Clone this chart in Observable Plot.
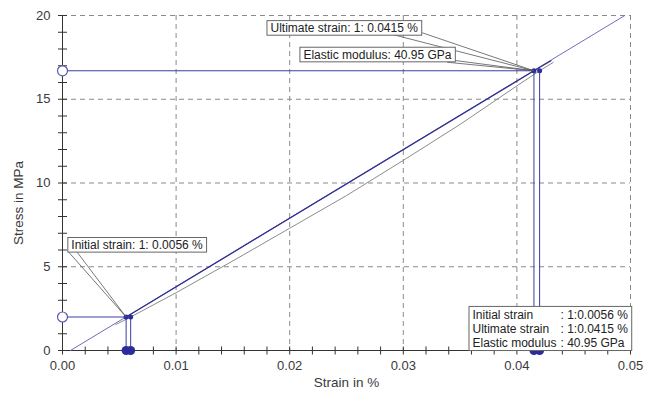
<!DOCTYPE html>
<html><head><meta charset="utf-8">
<script src="https://cdn.jsdelivr.net/npm/d3@7"></script>
<script src="https://cdn.jsdelivr.net/npm/@observablehq/plot@0.6"></script>
<style>
html,body{margin:0;padding:0;background:#fff;}
#chart{width:656px;height:396px;}
</style>
</head><body><div id="chart"></div>
<script>
// ---- data ----
const xTicks = [0, 0.01, 0.02, 0.03, 0.04, 0.05];
const xMinorTicks = [0.002, 0.004, 0.006, 0.008, 0.012, 0.014, 0.016, 0.018, 0.022, 0.024, 0.026, 0.028, 0.032, 0.034, 0.036, 0.038, 0.042, 0.044, 0.046, 0.048];
const yTicks = [0, 5, 10, 15, 20];
const yMinorTicks = [1, 2, 3, 4, 6, 7, 8, 9, 11, 12, 13, 14, 16, 17, 18, 19];

// elastic-modulus fit line
const fitLine = [
  {strain: 0.0007, stress: 0},
  {strain: 0.0495, stress: 20}
];
// measured curve (upper, dark)
const curveUpper = [
  {strain: 0.0056, stress: 2.0},
  {strain: 0.0415, stress: 16.7},
  {strain: 0.0430, stress: 17.3}
];
// measured curve (lower, grey)
const curveLower = [
  {strain: 0.0047, stress: 1.55},
  {strain: 0.0060, stress: 2.0},
  {strain: 0.0100, stress: 3.45},
  {strain: 0.0150, stress: 5.35},
  {strain: 0.0200, stress: 7.30},
  {strain: 0.0250, stress: 9.25},
  {strain: 0.0300, stress: 11.35},
  {strain: 0.0350, stress: 13.5},
  {strain: 0.0400, stress: 15.8},
  {strain: 0.0420, stress: 16.7},
  {strain: 0.0432, stress: 17.2}
];
// characteristic points
const keyPoints = [
  {strain: 0.0056, stress: 2.0},
  {strain: 0.0060, stress: 2.0},
  {strain: 0.0415, stress: 16.7},
  {strain: 0.0420, stress: 16.7}
];
const levels = [
  {strain: 0.0056, stress: 2.0},
  {strain: 0.0415, stress: 16.7}
];
// callout labels
const callouts = [
  {text: "Ultimate strain: 1: 0.0415 %", strain: 0.0180, stress: 19.25},
  {text: "Elastic modulus: 40.95 GPa", strain: 0.0209, stress: 17.66},
  {text: "Initial strain: 1: 0.0056 %", strain: 0.00047, stress: 6.30}
];
const leaders = [
  {x1: 0.02914, y1: 18.85, x2: 0.0415, y2: 16.7},
  {x1: 0.03166, y1: 18.97, x2: 0.0415, y2: 16.7},
  {x1: 0.03386, y1: 17.21, x2: 0.0415, y2: 16.7},
  {x1: 0.03460, y1: 17.31, x2: 0.0415, y2: 16.7},
  {x1: 0.00055, y1: 5.87, x2: 0.0056, y2: 2.0},
  {x1: 0.00129, y1: 5.87, x2: 0.0056, y2: 2.0}
];
const legendNames = ["Initial strain", "Ultimate strain", "Elastic modulus"];
const legendValues = [": 1:0.0056 %", ": 1:0.0415 %", ": 40.95 GPa"];
const xLabel = "Strain in %";
const yLabel = "Stress in MPa";

// ---- drawing ----
const FONT = "'Liberation Sans', Arial, sans-serif";
const vTick = {draw(ctx) { ctx.moveTo(0, -4); ctx.lineTo(0, 4); }};
const hTick = {draw(ctx) { ctx.moveTo(-4.5, 0); ctx.lineTo(4.5, 0); }};
const gridStyle = {stroke: "#8a8a8a", strokeOpacity: 1, strokeDasharray: "5,4", strokeWidth: 1};
const blue = "#2c2c9c";

const svg = Plot.plot({
  width: 656,
  height: 396,
  marginLeft: 62,
  marginRight: 26,
  marginTop: 15,
  marginBottom: 46,
  style: {fontFamily: FONT, fontSize: "12px", background: "#fff", color: "#333"},
  x: {domain: [0, 0.05]},
  y: {domain: [0, 20]},
  marks: [
    Plot.gridX(xTicks, gridStyle),
    Plot.gridY(yTicks, gridStyle),
    Plot.axisX(xTicks, {tickSize: 0, tickPadding: 10, tickFormat: d3.format(".2f"), label: null, fill: "#3a3a3a", fontSize: 13}),
    Plot.axisY(yTicks, {tickSize: 0, tickPadding: 12, label: null, fill: "#3a3a3a", fontSize: 13}),
    Plot.ruleX([0], {stroke: "#333"}),
    Plot.ruleY([0], {stroke: "#333"}),
    Plot.dot(xTicks.concat(xMinorTicks), {x: d => d, y: () => 0, symbol: vTick, stroke: "#333", fill: "none", strokeWidth: 1}),
    Plot.dot(yTicks.concat(yMinorTicks), {x: () => 0, y: d => d, symbol: hTick, stroke: "#333", fill: "none", strokeWidth: 1}),
    Plot.text([xLabel], {frameAnchor: "bottom", dy: 36, fontSize: 13.5, fill: "#3a3a3a"}),
    Plot.text([yLabel], {x: () => 0, y: () => 8.8, dx: -44, rotate: -90, fontSize: 13.5, fill: "#3a3a3a"}),

    Plot.line(fitLine, {x: "strain", y: "stress", stroke: "#6e6eba", strokeWidth: 1}),
    Plot.line(curveLower, {x: "strain", y: "stress", stroke: "#8c8c8c", strokeWidth: 1}),
    Plot.line(curveUpper, {x: "strain", y: "stress", stroke: "#30308f", strokeWidth: 1.3}),
    Plot.ruleY(levels, {y: "stress", x1: () => 0, x2: "strain", stroke: "#3c3ca2", strokeWidth: 1}),
    Plot.ruleX(keyPoints, {x: "strain", y1: () => 0, y2: "stress", stroke: "#3c3ca2", strokeWidth: 1}),
    Plot.dot(keyPoints, {x: "strain", y: () => 0, r: 4.5, fill: blue, stroke: "none"}),
    Plot.dot(keyPoints, {x: "strain", y: "stress", r: 2.5, fill: blue, stroke: "none"}),
    Plot.dot(levels, {x: () => 0, y: "stress", r: 5, fill: "white", stroke: "#5a5ab2", strokeWidth: 1.2}),

    Plot.link(leaders, {x1: "x1", y1: "y1", x2: "x2", y2: "y2", stroke: "#555", strokeWidth: 0.8}),
    Plot.text(callouts, {x: "strain", y: "stress", text: "text", textAnchor: "start", dx: 3.5, fontSize: 12, fill: "#222", ariaDescription: "callout"}),

    Plot.text([legendNames.join("\n")], {frameAnchor: "bottom-right", dx: -158, dy: -21.7, textAnchor: "start", lineAnchor: "middle", lineHeight: 1.15, fontSize: 12, fill: "#222", ariaDescription: "legend"}),
    Plot.text([legendValues.join("\n")], {frameAnchor: "bottom-right", dx: -70, dy: -21.7, textAnchor: "start", lineAnchor: "middle", lineHeight: 1.15, fontSize: 12, fill: "#222", ariaDescription: "legend"})
  ]
});

document.getElementById("chart").append(svg);

// boxes around callout and legend texts
(function addBoxes() {
  const root = svg.getBoundingClientRect();
  const s = d3.select(svg);
  function rel(r) { return {x: r.left - root.left, y: r.top - root.top, w: r.width, h: r.height}; }
  s.selectAll('g[aria-description="callout"]').each(function() {
    const g = this;
    d3.select(g).selectAll("text").each(function() {
      const b = rel(this.getBoundingClientRect());
      s.insert("rect", () => g)
        .attr("x", b.x - 3.5).attr("y", b.y - 0.3)
        .attr("width", b.w + 7).attr("height", b.h + 0.6)
        .attr("fill", "white").attr("stroke", "#666").attr("stroke-width", 1);
    });
  });
  const legendGroups = s.selectAll('g[aria-description="legend"]').nodes();
  if (legendGroups.length) {
    let x0 = Infinity, y0 = Infinity, x1 = -Infinity, y1 = -Infinity;
    legendGroups.forEach(g => {
      const b = rel(g.getBoundingClientRect());
      x0 = Math.min(x0, b.x); y0 = Math.min(y0, b.y);
      x1 = Math.max(x1, b.x + b.w); y1 = Math.max(y1, b.y + b.h);
    });
    s.insert("rect", () => legendGroups[0])
      .attr("x", x0 - 3.5).attr("y", y0 - 2)
      .attr("width", x1 - x0 + 7).attr("height", y1 - y0 + 2.5)
      .attr("fill", "white").attr("stroke", "#666").attr("stroke-width", 1);
  }
})();
</script>
</body></html>
